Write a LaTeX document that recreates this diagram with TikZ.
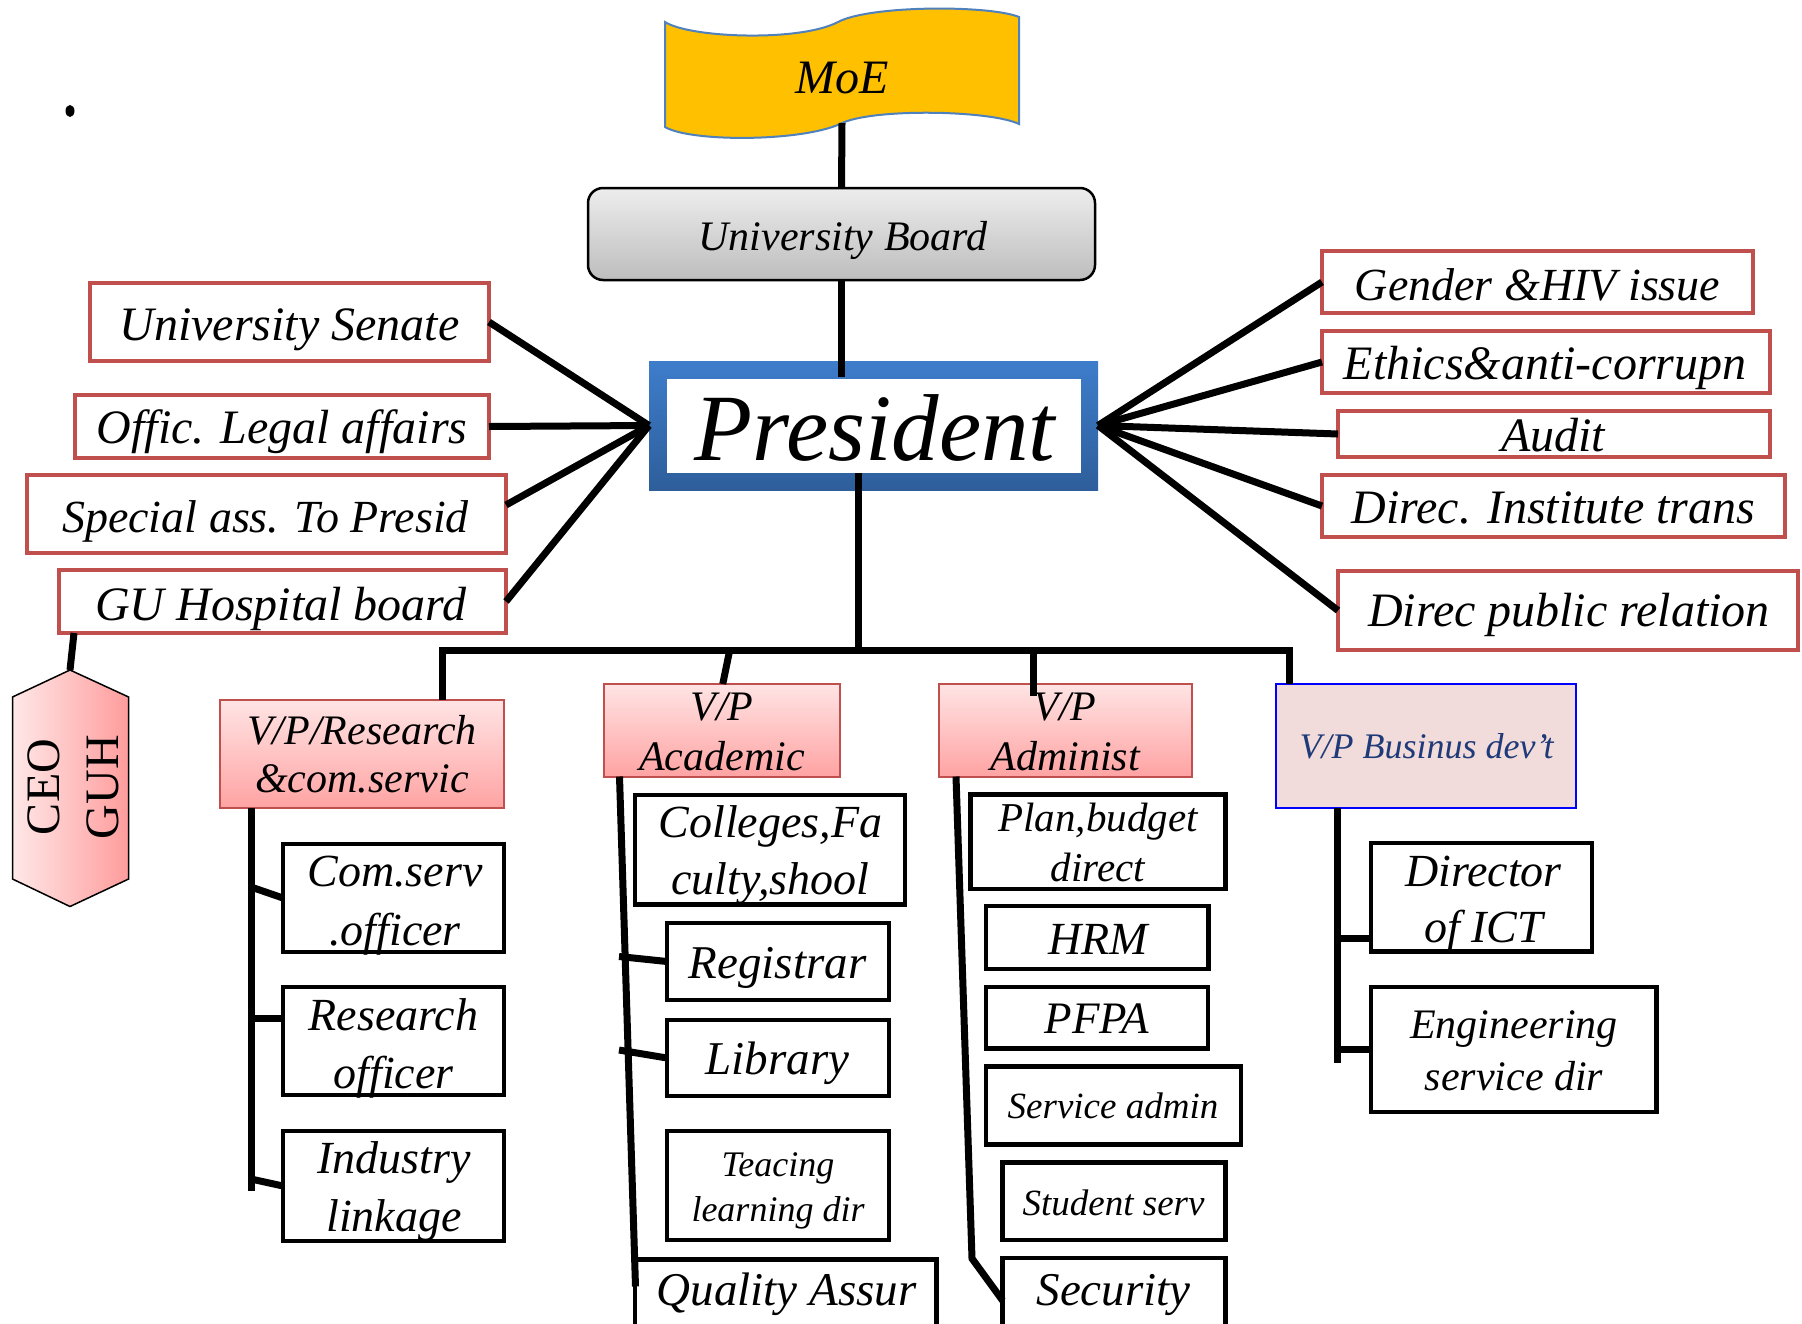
\documentclass[tikz,border=0pt]{standalone}
\usepackage{fontspec}
\setmainfont{Liberation Serif}
\definecolor{redb}{HTML}{C0504D}
\definecolor{moey}{HTML}{FFC000}
\definecolor{moeb}{HTML}{4F81BD}
\definecolor{pinkt}{HTML}{FFE4E4}
\definecolor{pinkb}{HTML}{FFA3A3}
\definecolor{bizf}{HTML}{F2DCDB}
\definecolor{bizt}{HTML}{1F3A78}
\definecolor{blut}{HTML}{3E7DCB}
\definecolor{blub}{HTML}{2E5E9B}
\definecolor{boardt}{HTML}{EDEDED}
\definecolor{boardb}{HTML}{BDBDBD}
\definecolor{hexl}{HTML}{FFE8E8}
\definecolor{hexr}{HTML}{FF9C9C}
\newcommand\fs[2]{\fontsize{#1pt}{#2pt}\selectfont\itshape}
\newcommand\bx[6]{%
  \pgfmathsetmacro\bw{#5-#3-4}\pgfmathsetmacro\bh{#6-#4-4}%
  \pgfmathsetmacro\bcx{(#3+#5)/2}\pgfmathsetmacro\bcy{(#4+#6)/2}%
  \node[#1,minimum width=\bw pt,minimum height=\bh pt] (#2) at (\bcx,\bcy) {};}
\begin{document}
\begin{tikzpicture}[x=1pt,y=-1pt,
  conn/.style={line width=7pt, draw=black},
  redbox/.style={draw=redb, line width=4pt, fill=white, inner sep=0pt, outer sep=0pt},
  blkbox/.style={draw=black, line width=4.5pt, fill=white, inner sep=0pt, outer sep=0pt},
  vpbox/.style={draw=redb, line width=2pt, top color=pinkt, bottom color=pinkb, inner sep=0pt, outer sep=0pt},
  bizbox/.style={draw=blue, line width=2.5pt, fill=bizf, inner sep=0pt, outer sep=0pt},
  boardbox/.style={draw=black, line width=2.5pt, rounded corners=15pt, top color=boardt, bottom color=boardb, inner sep=0pt, outer sep=0pt},
  presout/.style={top color=blut, bottom color=blub, inner sep=0pt, outer sep=0pt},
  presinner/.style={fill=white, inner sep=0pt, outer sep=0pt},
  lbl/.style={inner sep=0pt, align=center}]
\clip (0,0) rectangle (1802,1323);
\fill[white] (0,0) rectangle (1802,1323);
% dot
\fill (70,111) ellipse [x radius=4.5pt, y radius=6pt];
% MoE flag
\path[fill=moey, draw=moeb, line width=2pt]
  (665,22) .. controls (690,38) and (800,42) .. (838,22)
  .. controls (870,5) and (990,5) .. (1019,17) -- (1019,124)
  .. controls (990,110) and (870,108) .. (840,124)
  .. controls (800,142) and (690,142) .. (665,127) -- cycle;
\coordinate (moe-foot) at (842,123);
% hexagon
\path[left color=hexl, right color=hexr, draw=black, line width=1.5pt]
  (70,670) -- (128.6,697) -- (128.6,879) -- (70,906.5) -- (12.5,879) -- (12.5,697) -- cycle;
\coordinate (ceo-top) at (70,670);
% boxes
\bx{boardbox}{board}{586}{186}{1097}{282}
\bx{presout}{pres}{647}{359}{1100}{492}
\bx{presinner}{presin}{665}{377}{1083}{475}
\bx{redbox}{sen}{88}{281}{491}{363}
\bx{redbox}{leg}{73}{393}{491}{460}
\bx{redbox}{spe}{25}{473}{508}{555}
\bx{redbox}{gu}{57}{568}{508}{635}
\bx{redbox}{gen}{1320}{249}{1755}{315}
\bx{redbox}{eth}{1320}{329}{1772}{395}
\bx{redbox}{aud}{1336}{409}{1772}{459}
\bx{redbox}{dit}{1320}{473}{1787}{539}
\bx{redbox}{dpr}{1336}{569}{1800}{652}
\bx{vpbox}{vpr}{218}{698}{506}{810}
\bx{vpbox}{vpa}{601.5}{682}{842}{778.5}
\bx{vpbox}{vpd}{937}{682}{1194}{778.5}
\bx{bizbox}{vpb}{1274}{682}{1578}{810}
\bx{blkbox}{cso}{281}{842}{506}{954}
\bx{blkbox}{ro}{281}{985}{506}{1097}
\bx{blkbox}{il}{281}{1129}{506}{1243}
\bx{blkbox}{col}{633}{793}{907}{906.5}
\bx{blkbox}{reg}{665}{921}{891}{1002}
\bx{blkbox}{lib}{665}{1018}{891}{1098}
\bx{blkbox}{tld}{665}{1129}{891}{1242}
\bx{blkbox}{qa}{633}{1257.6}{938.6}{1345}
\bx{blkbox}{pbd}{968.5}{792.4}{1227.4}{891}
\bx{blkbox}{hrm}{984}{904}{1210.4}{971}
\bx{blkbox}{pfpa}{984}{985}{1210}{1050.7}
\bx{blkbox}{sa}{984}{1064.6}{1243}{1146.5}
\bx{blkbox}{ss}{1000.6}{1160.5}{1227.4}{1242}
\bx{blkbox}{sec}{1000.6}{1256}{1227.4}{1345}
\bx{blkbox}{ict}{1369}{841}{1594}{953.6}
\bx{blkbox}{esd}{1369}{985}{1658.7}{1114}
% connectors
\coordinate (busl) at (442,650);
\coordinate (busc) at (858,650);
\coordinate (busr) at (1289,650);
\draw[conn] (moe-foot) -- (board.north);
\draw[conn] (board.south) -- ([yshift=-16pt]board.south |- pres.north);
\draw[conn] (busc |- presin.south) -- (busc);
\draw[conn] (busl |- vpr.north) -- (busl) -- (busr) -- (busr |- vpb.north);
\draw[conn] ([xshift=1pt]vpa.north) -- ([xshift=8pt]vpa.north |- busc);
\draw[conn] ([xshift=-32.5pt,yshift=-12pt]vpd.north) -- ([xshift=-32.5pt]vpd.north |- busc);
\foreach \n in {sen,leg,gu} \draw[conn] (\n.east) -- (pres.west);
\draw[conn] ([yshift=9pt]spe.east) -- (pres.west);
\foreach \n in {gen,eth,aud,dit,dpr} \draw[conn] (\n.west) -- (pres.east);
\draw[conn] ([xshift=15pt]gu.south west) -- (ceo-top);
% VP research chain
\draw[conn] ([xshift=31pt]vpr.south west) -- ++(0,383);
\draw[conn] (cso.west) -- ++(-32,-11);
\draw[conn] ([yshift=23pt]ro.west) -- ++(-32,0);
\draw[conn] (il.west) -- ++(-32,-7);
% VP academic chain
\draw[conn] ([xshift=16pt]vpa.south west) -- ++(16,510);
\draw[conn] (reg.west) -- ++(-48,-5);
\draw[conn] (lib.west) -- ++(-48,-8);
% VP admin chain
\draw[conn] ([xshift=17pt]vpd.south west) -- ++(16,482) -- (sec.west);
% VP business chain
\draw[conn] ([xshift=61pt]vpb.south west) -- ++(0,255);
\draw[conn] ([yshift=-41pt]ict.west) -- ++(-32,0);
\draw[conn] (esd.west) -- ++(-32,0);
% texts
\node[lbl, font=\fs{48}{57.6}] (moe) at (842,81.5) {\strut MoE};
\node[lbl, font=\fs{42}{50.4}] (board-t) at (843,240) {\strut University Board};
\node[lbl, font=\fs{95}{114}] (pres-t) at (875,438) {\strut President};
\node[lbl, font=\fs{48}{57.6}] (sen-t) at (289.5,328.5) {\strut University Senate};
\node[lbl, font=\fs{48}{57.6}] (leg-t) at (282,431.5) {\strut Offic. Legal affairs};
\node[lbl, font=\fs{46}{55.2}] (spe-t) at (265.5,521) {\strut Special ass. To Presid};
\node[lbl, font=\fs{48}{57.6}] (gu-t) at (281,608.5) {\strut GU Hospital board};
\node[lbl, font=\fs{46}{55.2}] (gen-t) at (1537.6,289) {\strut Gender \&HIV issue};
\node[lbl, font=\fs{48}{57.6}] (eth-t) at (1545,367.5) {\strut Ethics\&anti-corrupn};
\node[lbl, font=\fs{48}{57.6}] (aud-t) at (1553,440) {\strut Audit};
\node[lbl, font=\fs{48}{57.6}] (dit-t) at (1553.5,511.5) {\strut Direc. Institute trans};
\node[lbl, font=\fs{48}{57.6}] (dpr-t) at (1569,615) {\strut Direc public relation};
\node[lbl, rotate=90, font=\fontsize{48pt}{59pt}\selectfont] (ceo) at (76.7,787) {\strut CEO\\\strut GUH};
\node[lbl, font=\fs{42}{48.5}] (vpr-t) at (362,759) {\strut V/P/Research\\\strut \&com.servic};
\node[lbl, font=\fs{42}{50}] (vpa-t) at (722,735.6) {\strut V/P\\\strut Academic};
\node[lbl, font=\fs{42}{50}] (vpd-t) at (1065,735.6) {\strut V/P\\\strut Administ};
\node[lbl, font=\fs{36}{43.2}, text=bizt] (vpb-t) at (1426.5,750) {\strut V/P Businus dev’t};
\node[lbl, font=\fs{46}{59}] (cso-t) at (395,903.7) {\strut Com.serv\\\strut .officer};
\node[lbl, font=\fs{46}{58.6}] (ro-t) at (393.5,1047.6) {\strut Research\\\strut officer};
\node[lbl, font=\fs{46}{58.5}] (il-t) at (394,1191) {\strut Industry\\\strut linkage};
\node[lbl, font=\fs{46}{57}] (col-t) at (770.5,855) {\strut Colleges,Fa\\\strut culty,shool};
\node[lbl, font=\fs{47}{56.4}] (reg-t) at (777.5,967.7) {\strut Registrar};
\node[lbl, font=\fs{47}{56.4}] (lib-t) at (777.5,1063.7) {\strut Library};
\node[lbl, font=\fs{36}{44.4}] (tld-t) at (778,1190) {\strut Teacing\\\strut learning dir};
\node[lbl, font=\fs{47}{56.4}] (qa-t) at (786.5,1294.7) {\strut Quality Assur};
\node[lbl, font=\fs{41}{50}] (pbd-t) at (1098,846.6) {\strut Plan,budget\\\strut direct};
\node[lbl, font=\fs{46}{55.2}] (hrm-t) at (1098,943.5) {\strut HRM};
\node[lbl, font=\fs{45}{54}] (pfpa-t) at (1097,1023) {\strut PFPA};
\node[lbl, font=\fs{37}{44.4}] (sa-t) at (1113,1110) {\strut Service admin};
\node[lbl, font=\fs{37}{44.4}] (ss-t) at (1113.6,1207) {\strut Student serv};
\node[lbl, font=\fs{47}{56.4}] (sec-t) at (1113.5,1294.7) {\strut Security};
\node[lbl, font=\fs{46}{56.7}] (ict-t) at (1483.5,903) {\strut Director\\\strut of ICT};
\node[lbl, font=\fs{42}{52.3}] (esd-t) at (1514,1054) {\strut Engineering\\\strut service dir};
\end{tikzpicture}
\end{document}
